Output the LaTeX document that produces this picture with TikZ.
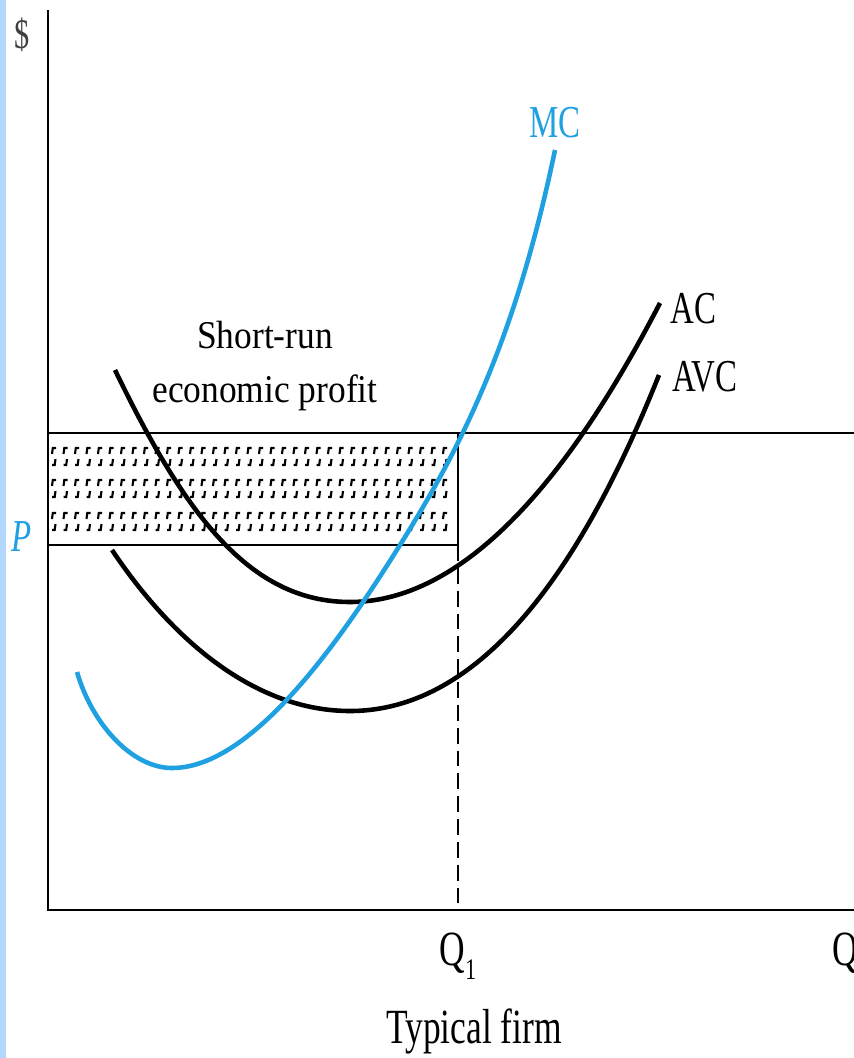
\documentclass[tikz,border=0pt]{standalone}
\usepackage{fontspec}
\setmainfont{Liberation Serif}
\newfontfamily\txtfont{Liberation Serif}[FakeStretch=0.9]
\newfontfamily\labfont{Liberation Serif}[FakeStretch=0.72]
\definecolor{mcblue}{RGB}{30,160,225}
\definecolor{barblue}{RGB}{178,214,252}
\tikzset{
  axisline/.style={line width=1.6pt},
  curveline/.style={line width=2.6pt},
  lab/.style={inner sep=0pt, font=\fontsize{26}{26}\labfont},
  biglab/.style={inner sep=0pt, font=\fontsize{28}{28}\labfont},
  txt/.style={inner sep=0pt, align=center, font=\fontsize{22.4}{31}\txtfont},
  hatchmark/.style={line width=1.2pt}
}
\begin{document}
\begin{tikzpicture}[x=0.02cm,y=-0.02cm]
\useasboundingbox (0,0) rectangle (854,1058);
\fill[barblue] (0,0) rectangle (6,1058);
% hatch pattern
\foreach \yy in {451,483,516}{
  \foreach \xx in {52,63.5,...,452}{
    \draw[hatchmark] (\xx,\yy+3) -- (\xx+0.8,\yy-3) -- (\xx+4,\yy-3);
    \draw[hatchmark] (\xx+3.5,\yy+8) -- (\xx+2.7,\yy+14) -- (\xx,\yy+14);
  }
}
% axes
\coordinate (O) at (48,910);
\coordinate (ytop) at (48,10);
\coordinate (xend) at (854,910);
\draw[axisline] (ytop) -- (O) -- (xend);
% price line and profit box
\coordinate (pl) at (48,433);
\coordinate (pr) at (854,433);
\coordinate (bl) at (48,545);
\coordinate (br) at (458,545);
\coordinate (bt) at (458,433);
\coordinate (qa) at (458,910);
\draw[axisline] (pl) -- (pr);
\draw[axisline] (bl) -- (br) -- (bt);
\draw[line width=1.2pt, dash pattern=on 9pt off 4pt] (br) -- (qa);
% AC
\coordinate (acs) at (115,370);
\coordinate (acm) at (350,602);
\coordinate (ace) at (660,303);
\draw[curveline] (acs) .. controls (185,515) and (250,602) .. (acm)
  .. controls (453,602) and (557,502) .. (ace);
% AVC
\coordinate (avs) at (112,550);
\coordinate (avm) at (350,711);
\coordinate (ave) at (659,375);
\draw[curveline] (avs) .. controls (177,647) and (260,711) .. (avm)
  .. controls (500,711) and (599,525) .. (ave);
% MC
\coordinate (mcs) at (77,672);
\coordinate (mcm) at (172,768);
\coordinate (mcc) at (400,545);
\coordinate (mce) at (555,150);
\draw[curveline, mcblue] (mcs) .. controls (92,724) and (132,768) .. (mcm)
  .. controls (252,768) and (340,641) .. (mcc)
  .. controls (460,449) and (515,342) .. (mce);
% labels
\node[font=\fontsize{24}{24}\labfont, inner sep=0pt, text=black!75] (dollar) at (22,35) {\$};
\node[lab, text=mcblue, anchor=base] (mc) at (555,137) {MC};
\node[lab, anchor=base west] (ac) at (670,323) {AC};
\node[lab, anchor=base west] (avc) at (672,391) {AVC};
\node[lab, text=mcblue, anchor=center] (p) at (22,537) {\itshape P};
\node[txt, anchor=base] (sr) at (265,348) {Short-run};
\node[txt, anchor=base] (ep) at (265,402) {economic profit};
\node[biglab, anchor=base] (q1) at (458,965) {Q\raisebox{-0.3em}{\fontsize{17}{17}\labfont 1}};
\node[biglab, anchor=base west] (q) at (832,965) {Q};
\node[biglab, anchor=base] (tf) at (474,1043) {Typical firm};
\end{tikzpicture}
\end{document}
